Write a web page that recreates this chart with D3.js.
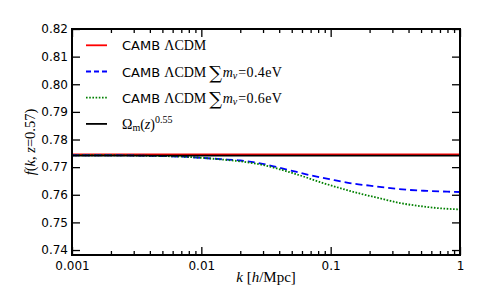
<!DOCTYPE html>
<meta charset="utf-8">
<style>
body { margin: 0; background: #fff; }
svg { display: block; }
.tick text { font-family: "DejaVu Sans", sans-serif; font-size: 12px; fill: #000; }
.tick line { stroke: #000; stroke-width: 1.3; }
.serif { font-family: "Liberation Serif", "DejaVu Serif", serif; }
</style>
<svg width="480" height="301"></svg>
<script src="https://d3js.org/d3.v7.min.js"></script>
<script>

// values
var kCamb = [0.001, 1],
    fCamb = [0.7746, 0.7746];

var kNu04 = [0.001, 0.002, 0.004, 0.0077, 0.0098, 0.014, 0.02, 0.0284, 0.046, 0.069, 0.099, 0.147, 0.2, 0.264, 0.39, 0.557, 0.838, 1],
    fNu04 = [0.7743, 0.7743, 0.7741, 0.7737, 0.7734, 0.7729, 0.7724, 0.7714, 0.7691, 0.7671, 0.7656, 0.7641, 0.7633, 0.7626, 0.7618, 0.7614, 0.7611, 0.7610];

var kNu06 = [0.001, 0.002, 0.004, 0.0077, 0.0098, 0.014, 0.02, 0.0284, 0.0512, 0.0938, 0.16, 0.241, 0.344, 0.491, 0.702, 1],
    fNu06 = [0.7743, 0.7743, 0.7741, 0.7737, 0.7734, 0.7728, 0.7721, 0.7710, 0.7678, 0.7638, 0.7607, 0.7587, 0.7570, 0.7559, 0.7551, 0.7547];

var kFit = [0.001, 1],
    fFit = [0.7742, 0.7742];

var xTicks = [0.001, 0.01, 0.1, 1],
    xTickLabels = ["0.001", "0.01", "0.1", "1"],
    yTicks = [0.74, 0.75, 0.76, 0.77, 0.78, 0.79, 0.80, 0.81, 0.82];

var svg = d3.select("svg"),
    pLeft = 72, pRight = 460, pTop = 29, pBottom = 255;

var x = d3.scaleLog().domain([0.001, 1]).range([pLeft, pRight]);
var y = d3.scaleLinear().domain([0.7382, 0.82]).range([pBottom, pTop]);

var minors = [];
for (var dec = 0.001; dec < 1; dec *= 10) {
  for (var m = 2; m < 10; m++) minors.push(+(dec * m).toPrecision(3));
}

function fmtX(d) { return xTickLabels[xTicks.indexOf(d)]; }

// axes, ticks pointing inward on all four sides
svg.append("g").attr("transform", "translate(0," + pBottom + ")")
   .call(d3.axisBottom(x).tickValues(xTicks).tickFormat(fmtX).tickSize(-8).tickPadding(6));
svg.append("g").attr("transform", "translate(0," + pBottom + ")")
   .call(d3.axisBottom(x).tickValues(minors).tickFormat("").tickSize(-4));
svg.append("g").attr("transform", "translate(0," + pTop + ")")
   .call(d3.axisTop(x).tickValues(xTicks).tickFormat("").tickSize(-8));
svg.append("g").attr("transform", "translate(0," + pTop + ")")
   .call(d3.axisTop(x).tickValues(minors).tickFormat("").tickSize(-4));
svg.append("g").attr("transform", "translate(" + pLeft + ",0)")
   .call(d3.axisLeft(y).tickValues(yTicks).tickFormat(d3.format(".2f")).tickSize(-8).tickPadding(4));
svg.append("g").attr("transform", "translate(" + pRight + ",0)")
   .call(d3.axisRight(y).tickValues(yTicks).tickFormat("").tickSize(-8));
svg.selectAll(".domain").remove();

var line = d3.line()
    .x(function(d) { return x(d[0]); })
    .y(function(d) { return y(d[1]); })
    .curve(d3.curveMonotoneX);

function pairs(ks, fs) { return ks.map(function(k, i) { return [k, fs[i]]; }); }

var series = [
  {data: pairs(kCamb, fCamb), color: "#ff0000", dash: null},
  {data: pairs(kNu04, fNu04), color: "#0000ff", dash: "7,4"},
  {data: pairs(kNu06, fNu06), color: "#008000", dash: "1.6,1.6"},
  {data: pairs(kFit, fFit), color: "#000000", dash: null}
];

svg.append("g").selectAll("path")
   .data(series)
   .enter().append("path")
   .attr("d", function(d) { return line(d.data); })
   .attr("fill", "none")
   .attr("stroke", function(d) { return d.color; })
   .attr("stroke-width", 1.8)
   .attr("stroke-dasharray", function(d) { return d.dash; });

svg.append("rect")
   .attr("x", pLeft).attr("y", pTop)
   .attr("width", pRight - pLeft).attr("height", pBottom - pTop)
   .attr("fill", "none").attr("stroke", "#000").attr("stroke-width", 2);

// legend
var leg = svg.append("g");
series.forEach(function(s, i) {
  var ly = 45.3 + i * 26.2;
  leg.append("line")
     .attr("x1", 86).attr("x2", 107).attr("y1", ly).attr("y2", ly)
     .attr("stroke", s.color).attr("stroke-width", 1.8)
     .attr("stroke-dasharray", s.dash === "7,4" ? "5,3" : s.dash);
});

function camb(t, massLabel) {
  t.append("tspan").attr("font-family", "DejaVu Sans, sans-serif").text("CAMB ");
  t.append("tspan").attr("class", "serif").attr("font-size", 14).text("ΛCDM");
  if (massLabel) {
    t.append("tspan").attr("font-family", "DejaVu Serif, serif").attr("font-size", 18).attr("dx", 3).attr("dy", 2).text("∑");
    t.append("tspan").attr("class", "serif").attr("font-size", 14).attr("font-style", "italic").attr("dy", -2).attr("dx", 0.5).text("m");
    t.append("tspan").attr("class", "serif").attr("font-size", 10).attr("font-style", "italic").attr("dy", 2.5).text("ν");
    t.append("tspan").attr("class", "serif").attr("font-size", 14).attr("letter-spacing", 0.4).attr("dx", 1).attr("dy", -2.5).text("=" + massLabel);
  }
}

var labelMass = [null, "0.4eV", "0.6eV"];
labelMass.forEach(function(ml, i) {
  var t = leg.append("text").attr("x", 122).attr("y", 50.3 + i * 26.2).attr("font-size", 13);
  camb(t, ml);
});

var t4 = leg.append("text").attr("x", 122).attr("y", 50.3 + 3 * 26.2).attr("class", "serif").attr("font-size", 14);
t4.append("tspan").text("Ω");
t4.append("tspan").attr("font-size", 10).attr("dy", 2.5).text("m");
t4.append("tspan").attr("dy", -2.5).text("(");
t4.append("tspan").attr("font-style", "italic").text("z");
t4.append("tspan").text(")");
t4.append("tspan").attr("font-size", 10).attr("dy", -6).text("0.55");

// axis labels
var xl = svg.append("text").attr("class", "serif").attr("font-size", 15)
   .attr("x", (pLeft + pRight) / 2).attr("y", 282).attr("text-anchor", "middle");
xl.append("tspan").attr("font-style", "italic").text("k");
xl.append("tspan").text(" [");
xl.append("tspan").attr("font-style", "italic").text("h");
xl.append("tspan").text("/Mpc]");

var yl = svg.append("text").attr("class", "serif").attr("font-size", 14.5)
   .attr("transform", "translate(35," + (pTop + pBottom) / 2 + ") rotate(-90)")
   .attr("text-anchor", "middle");
yl.append("tspan").attr("font-style", "italic").text("f");
yl.append("tspan").text("(");
yl.append("tspan").attr("font-style", "italic").text("k");
yl.append("tspan").text(", ");
yl.append("tspan").attr("font-style", "italic").text("z");
yl.append("tspan").text("=0.57)");

</script>
